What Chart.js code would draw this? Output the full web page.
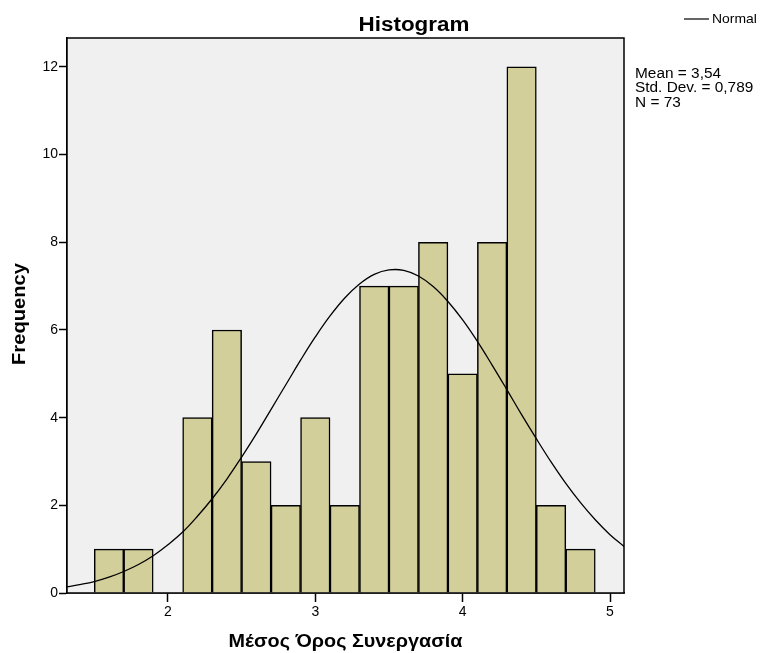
<!DOCTYPE html>
<html>
<head>
<meta charset="utf-8">
<title>Histogram</title>
<script src="https://cdn.jsdelivr.net/npm/chart.js@4"></script>
<style>
  html, body { margin: 0; padding: 0; background: #ffffff; }
  #wrap { width: 762px; height: 653px; position: relative; }
</style>
</head>
<body>
<div id="wrap"><canvas id="hist"></canvas></div>
<script>
// ── Data ──────────────────────────────────────────────
const binCenters = [1.6, 1.8, 2.0, 2.2, 2.4, 2.6, 2.8, 3.0, 3.2, 3.4, 3.6, 3.8, 4.0, 4.2, 4.4, 4.6, 4.8];
const binCounts  = [1, 1, null, 4, 6, 3, 2, 4, 2, 7, 7, 8, 5, 8, 12, 2, 1];

// normal curve
const curveX = [1.3, 1.4, 1.5, 1.6, 1.7, 1.8, 1.9, 2.0, 2.1, 2.2, 2.3, 2.4, 2.5, 2.6, 2.7, 2.8, 2.9, 3.0, 3.1, 3.2,
                3.3, 3.4, 3.5, 3.6, 3.7, 3.8, 3.9, 4.0, 4.1, 4.2, 4.3, 4.4, 4.5, 4.6, 4.7, 4.8, 4.9, 5.0, 5.1];
const curveY = [0.13, 0.19, 0.26, 0.36, 0.49, 0.65, 0.85, 1.10, 1.39, 1.75, 2.15, 2.60, 3.10, 3.63, 4.19, 4.75, 5.31, 5.84, 6.32, 6.73,
                7.05, 7.27, 7.37, 7.36, 7.23, 6.99, 6.65, 6.23, 5.74, 5.20, 4.64, 4.07, 3.52, 2.99, 2.50, 2.06, 1.67, 1.33, 1.05];

const xTicks = [2, 3, 4, 5];
const yTicks = [0, 2, 4, 6, 8, 10, 12];

const statLines  = ['Mean = 3,54', 'Std. Dev. = 0,789', 'N = 73'];
const chartTitle = 'Histogram';
const xTitle     = 'Μέσος Όρος Συνεργασία';
const yTitle     = 'Frequency';
const legendText = 'Normal';

// ── Colours ───────────────────────────────────────────
const COLORS = {
  bar:     '#d3cf9a',
  plotBg:  '#f0f0f0',
  ink:     '#000000',
};

const FONT = "'Liberation Sans', Arial, sans-serif";

// ── Plot frame + background ───────────────────────────
const framePlugin = {
  id: 'frame',
  beforeDatasetsDraw(chart) {
    const { ctx, chartArea: a } = chart;
    ctx.save();
    ctx.fillStyle = COLORS.plotBg;
    ctx.fillRect(a.left, a.top, a.right - a.left, a.bottom - a.top);
    ctx.restore();
  },
  afterDatasetsDraw(chart) {
    const { ctx, chartArea: a } = chart;
    ctx.save();
    ctx.strokeStyle = COLORS.ink;
    ctx.lineWidth = 1.5;
    ctx.strokeRect(a.left, a.top, a.right - a.left, a.bottom - a.top);
    ctx.restore();
  }
};

// text drawn slightly wide, like the reference export
function wideText(ctx, str, x, y, sx) {
  ctx.save();
  ctx.translate(x, y);
  ctx.scale(sx, 1);
  ctx.fillText(str, 0, 0);
  ctx.restore();
}

// ── Texts: title, axis titles, legend, stats ──────────
const textPlugin = {
  id: 'texts',
  afterDraw(chart) {
    const { ctx, chartArea: a } = chart;
    ctx.save();
    ctx.fillStyle = COLORS.ink;
    ctx.textBaseline = 'middle';

    ctx.textAlign = 'center';
    ctx.font = 'bold 20px ' + FONT;
    wideText(ctx, chartTitle, 414, 25, 1.12);

    ctx.font = 'bold 18px ' + FONT;
    wideText(ctx, xTitle, (a.left + a.right) / 2, 642, 1.1);

    ctx.save();
    ctx.translate(20, 314);
    ctx.rotate(-Math.PI / 2);
    wideText(ctx, yTitle, 0, 0, 1.12);
    ctx.restore();

    // legend
    ctx.strokeStyle = COLORS.ink;
    ctx.lineWidth = 1.2;
    ctx.beginPath();
    ctx.moveTo(684, 19);
    ctx.lineTo(709, 19);
    ctx.stroke();
    ctx.textAlign = 'left';
    ctx.font = '13px ' + FONT;
    wideText(ctx, legendText, 712, 19.5, 1.07);

    // stats box
    ctx.font = '14px ' + FONT;
    statLines.forEach((s, i) => wideText(ctx, s, 635, 74 + i * 14.5, 1.1));
    ctx.restore();
  }
};

new Chart(document.getElementById('hist'), {
  data: {
    datasets: [
      {
        type: 'line',
        data: curveX.map((x, i) => ({ x, y: curveY[i] })),
        borderColor: COLORS.ink,
        borderWidth: 1.3,
        pointRadius: 0,
        tension: 0.4,
        fill: false,
        order: 0,
      },
      {
        type: 'bar',
        data: binCenters.map((x, i) => ({ x, y: binCounts[i] })),
        backgroundColor: COLORS.bar,
        borderColor: COLORS.ink,
        borderWidth: 1.5,
        barPercentage: 1,
        categoryPercentage: 1,
        order: 1,
      },
    ]
  },
  options: {
    responsive: true,
    maintainAspectRatio: false,
    animation: false,
    layout: { padding: { top: 38, right: 138, left: 0, bottom: 0 } },
    plugins: {
      legend:  { display: false },
      title:   { display: false },
      tooltip: { enabled: false },
    },
    scales: {
      x: {
        type: 'linear',
        min: 1.315,
        max: 5.095,
        offset: false,
        afterBuildTicks: (s) => { s.ticks = xTicks.map(v => ({ value: v })); },
        afterFit: (s) => { s.height = 60; },
        grid:   { offset: false, drawOnChartArea: false, drawTicks: true, tickLength: 9, tickColor: COLORS.ink, tickWidth: 1.5 },
        border: { display: true, color: COLORS.ink, width: 1.5 },
        ticks:  { color: COLORS.ink, font: { family: FONT, size: 14 }, padding: 2, maxRotation: 0 },
      },
      y: {
        type: 'linear',
        min: 0,
        max: 12.66,
        afterBuildTicks: (s) => { s.ticks = yTicks.map(v => ({ value: v })); },
        afterFit: (s) => { s.width = 67; },
        grid:   { drawOnChartArea: false, drawTicks: true, tickLength: 8, tickColor: COLORS.ink, tickWidth: 1.5 },
        border: { display: true, color: COLORS.ink, width: 1.5 },
        ticks:  { color: COLORS.ink, font: { family: FONT, size: 14 }, padding: 1 },
      },
    }
  },
  plugins: [framePlugin, textPlugin]
});
</script>
</body>
</html>
